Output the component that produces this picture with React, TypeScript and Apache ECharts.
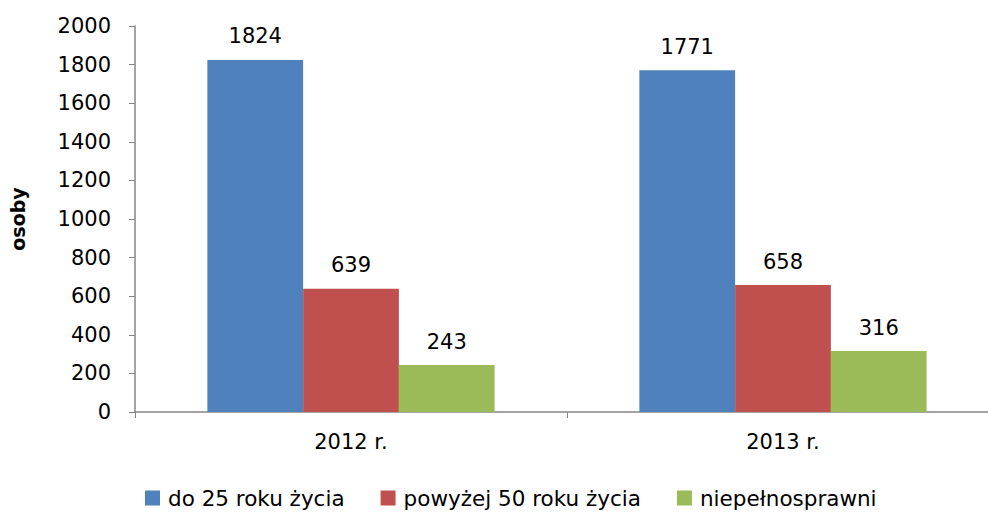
import React, { useEffect, useRef } from "react";
import * as echarts from "echarts";

const categories = ["2012 r.", "2013 r."];
const seriesNames = ["do 25 roku życia", "powyżej 50 roku życia", "niepełnosprawni"];
const young = [1824, 1771];
const older = [639, 658];
const disabled = [243, 316];
const colors = ["#4F81BD", "#C0504D", "#9BBB59"];

const FONT = "DejaVu Sans";

export default function App() {
  const ref = useRef<HTMLDivElement>(null);
  useEffect(() => {
    if (!ref.current) return;
    const chart = echarts.init(ref.current, undefined, { renderer: "svg" });
    const values = [young, older, disabled];
    chart.setOption({
      animation: false,
      textStyle: { fontFamily: FONT },
      grid: { left: 133, top: 26, bottom: 104, width: 866 },
      legend: {
        left: 140,
        bottom: 2,
        itemWidth: 15,
        itemHeight: 15,
        itemGap: 36,
        icon: "rect",
        textStyle: { fontFamily: FONT, fontSize: 21.5, color: "#000", padding: [0, 0, 0, 3] },
        data: seriesNames,
      },
      xAxis: {
        type: "category",
        data: categories,
        axisLine: { lineStyle: { color: "#868686", width: 1.5 } },
        axisTick: { show: true, length: 6, lineStyle: { color: "#868686" } },
        axisLabel: { fontFamily: FONT, fontSize: 21, color: "#000", margin: 19 },
      },
      yAxis: {
        type: "value",
        min: 0,
        max: 2000,
        interval: 200,
        name: "osoby",
        nameLocation: "middle",
        nameGap: 108,
        nameTextStyle: { fontFamily: FONT, fontSize: 19, fontWeight: "bold", color: "#000" },
        splitLine: { show: false },
        axisLine: { show: true, lineStyle: { color: "#868686", width: 1.5 } },
        axisTick: { show: true, length: 6, lineStyle: { color: "#868686" } },
        axisLabel: {
          fontFamily: FONT,
          fontSize: 21,
          color: "#000",
          margin: 24,
          formatter: (v: number) => String(v),
        },
      },
      series: seriesNames.map((name, i) => ({
        name,
        type: "bar",
        data: values[i],
        barGap: "0%",
        barCategoryGap: "33.5%",
        itemStyle: { color: colors[i] },
        label: {
          show: true,
          position: "top",
          distance: 13,
          fontFamily: FONT,
          fontSize: 21,
          color: "#000",
        },
      })),
    });
    return () => chart.dispose();
  }, []);
  return (
    <div style={{ position: "absolute", left: 0, top: 0, width: 988, height: 516, overflow: "hidden" }}>
      <div ref={ref} style={{ width: 1000, height: 516 }} />
    </div>
  );
}
